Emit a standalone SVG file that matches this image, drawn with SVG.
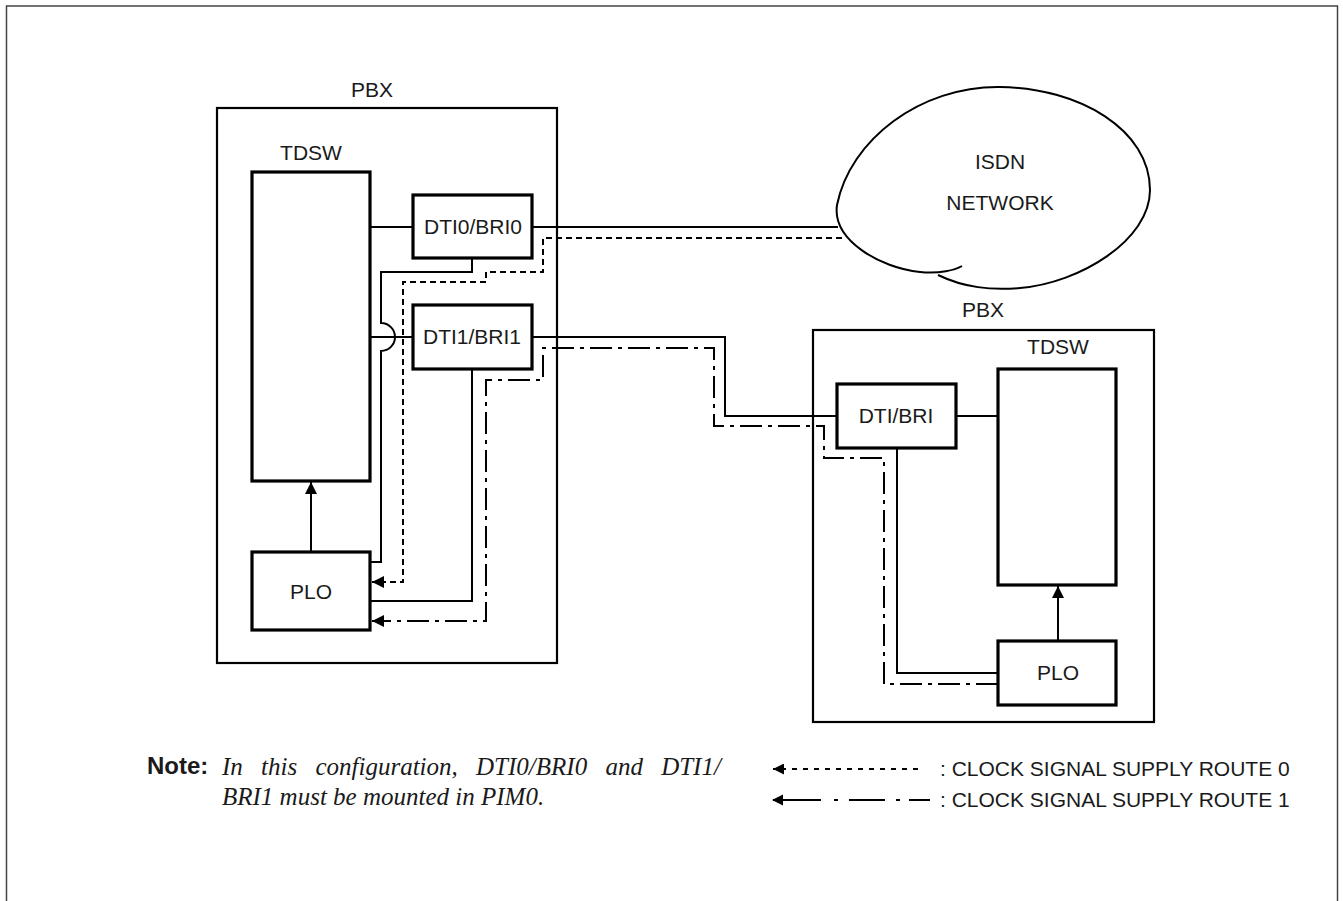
<svg xmlns="http://www.w3.org/2000/svg" width="1343" height="901" viewBox="0 0 1343 901">
<defs>
<marker id="ah" viewBox="0 0 12 12" refX="12" refY="6" markerWidth="12" markerHeight="12" markerUnits="userSpaceOnUse" orient="auto">
<path d="M0,0 L12,6 L0,12 Z" fill="#000"/>
</marker>
<marker id="ahs" viewBox="0 0 12 12" refX="12" refY="6" markerWidth="11" markerHeight="11" markerUnits="userSpaceOnUse" orient="auto">
<path d="M0,0 L12,6 L0,12 Z" fill="#000"/>
</marker>
</defs>
<style>
.lbl{font-family:"Liberation Sans",Arial,sans-serif;font-size:21px;fill:#1a1a1a;text-anchor:middle}
.box{fill:#fff;stroke:#000;stroke-width:3.2}
.pbx{fill:none;stroke:#000;stroke-width:2.2}
.ln{fill:none;stroke:#000;stroke-width:2}
.r0{fill:none;stroke:#000;stroke-width:2;stroke-dasharray:6 4}
.r1{fill:none;stroke:#000;stroke-width:2;stroke-dasharray:22 6 4 6}
.leg{font-family:"Liberation Sans",Arial,sans-serif;font-size:21px;fill:#1a1a1a}
.note{font-family:"Liberation Serif","Times New Roman",serif;font-style:italic;font-size:25px;fill:#1a1a1a}
</style>
<rect x="6.5" y="6" width="1331" height="910" fill="#fff" stroke="#444" stroke-width="1.5"/>

<g id="pbx-left">
<rect class="pbx" x="217" y="108" width="340" height="555"/>
<text class="lbl" x="372" y="97">PBX</text>
</g>
<g id="pbx-right">
<rect class="pbx" x="813" y="330" width="341" height="392"/>
<text class="lbl" x="983" y="317">PBX</text>
</g>

<g id="isdn-network">
<path class="ln" d="M938,275 C965,288 990,290 1020,288 C1080,283 1150,240 1150,190 C1150,130 1080,88 1000,87 C920,86 850,140 837,205 C832,240 880,268 920,272 C940,274 955,270 962,266"/>
<text class="lbl" x="1000" y="169">ISDN</text>
<text class="lbl" x="1000" y="210">NETWORK</text>
</g>

<g id="connectors">
<line class="ln" x1="370" y1="227" x2="413" y2="227"/>
<line class="ln" x1="370" y1="337" x2="413" y2="337"/>
<line class="ln" x1="532" y1="227" x2="838" y2="227"/>
<polyline class="ln" points="532,337 725,337 725,416 837,416"/>
<path class="ln" d="M472,258 V272 H381 V323 A14,14 0 0 1 381,351 V562 H370"/>
<polyline class="ln" points="472,369 472,601 370,601"/>
<line class="ln" x1="956" y1="416" x2="998" y2="416"/>
<polyline class="ln" points="897,448 897,673 998,673"/>
<line class="ln" x1="311" y1="552" x2="311" y2="482" marker-end="url(#ah)"/>
<line class="ln" x1="1058" y1="641" x2="1058" y2="586" marker-end="url(#ah)"/>
<polyline class="r0" points="842,238 543,238 543,272 486,272 486,282 403,282 403,582 372,582" marker-end="url(#ah)"/>
<polyline class="r1" points="998,684 884,684 884,458 824,458 824,426 714,426 714,348 543,348 543,380 486,380 486,621 372,621" marker-end="url(#ah)"/>
</g>

<g id="tdsw-left">
<rect class="box" x="252" y="172" width="118" height="309"/>
<text class="lbl" x="311" y="160">TDSW</text>
</g>
<g id="dti0">
<rect class="box" x="413" y="195" width="119" height="63"/>
<text class="lbl" x="473" y="234">DTI0/BRI0</text>
</g>
<g id="dti1">
<rect class="box" x="413" y="305" width="119" height="64"/>
<text class="lbl" x="472" y="344">DTI1/BRI1</text>
</g>
<g id="plo-left">
<rect class="box" x="252" y="552" width="118" height="78"/>
<text class="lbl" x="311" y="599">PLO</text>
</g>
<g id="tdsw-right">
<rect class="box" x="998" y="369" width="118" height="216"/>
<text class="lbl" x="1058" y="354">TDSW</text>
</g>
<g id="dti-bri">
<rect class="box" x="837" y="384" width="119" height="64"/>
<text class="lbl" x="896" y="423">DTI/BRI</text>
</g>
<g id="plo-right">
<rect class="box" x="998" y="641" width="118" height="64"/>
<text class="lbl" x="1058" y="680">PLO</text>
</g>

<g id="legend">
<line x1="918" y1="769" x2="773" y2="769" stroke="#000" stroke-width="2" stroke-dasharray="5 6" marker-end="url(#ahs)"/>
<path d="M930,800 H909 M900,800 H896 M885,800 H849 M838,800 H834 M821,800 H773" stroke="#000" stroke-width="2" fill="none"/>
<path d="M772,800 L783,794.5 L783,805.5 Z" fill="#000"/>
<text class="leg" x="940" y="776">: CLOCK SIGNAL SUPPLY ROUTE 0</text>
<text class="leg" x="940" y="807">: CLOCK SIGNAL SUPPLY ROUTE 1</text>
</g>

<g id="note">
<text x="147" y="774" style="font-family:'Liberation Sans',Arial,sans-serif;font-weight:bold;font-size:24px;fill:#1a1a1a">Note:</text>
<text class="note" x="222" y="775" word-spacing="12">In this configuration, DTI0/BRI0 and DTI1/</text>
<text class="note" x="222" y="805">BRI1 must be mounted in PIM0.</text>
</g>
</svg>
